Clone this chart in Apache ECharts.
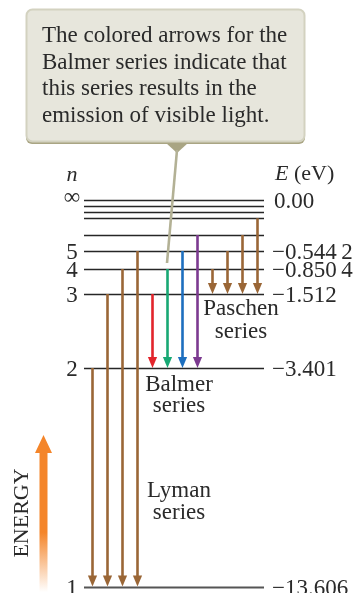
<!DOCTYPE html>
<html><head><meta charset="utf-8">
<script src="https://cdn.jsdelivr.net/npm/echarts@6/dist/echarts.min.js"></script>
<style>html,body{margin:0;padding:0;background:#fff}#c{width:357px;height:593px}</style>
</head><body><div id="c"></div>
<script>
// Hydrogen energy levels (schematic diagram scale, bottom = n=1)
const levelN = ['1', '2', '3', '4', '5', '6', '7', '8', '9', '∞'];
const levelLeftLabel = ['1', '2', '3', '4', '5', '', '', '', '', '∞'];
const levelEnergyLabel = ['\u221213.606', '\u22123.401', '\u22121.512', '\u22120.850\u20094', '\u22120.544\u20092', '', '', '', '', '0.00'];
const levelHeight = [0, 218.5, 292.5, 317.5, 335.5, 351.5, 368.2, 374.8, 380.8, 386.5];

// Transitions (upper level n -> lower level n)
const transitionCategories = ['L2', 'L3', 'L4', 'L5', 'B3', 'B4', 'B5', 'B6', 'P4', 'P5', 'P6', 'P7'];
const lymanFrom = [2, 3, 4, 5];
const lymanTo = 1;
const balmerFrom = [3, 4, 5, 6];
const balmerTo = 2;
const paschenFrom = [4, 5, 6, 7];
const paschenTo = 3;

const calloutText = 'The colored arrows for the\nBalmer series indicate that\nthis series results in the\nemission of visible light.';

const BROWN = '#9a6636';
const balmerColors = ['#e2242b', '#18a874', '#1d6fbf', '#7c3a90'];
const SERIF = "'Liberation Serif', serif";
const TXT = '#2a2a2a';

const arrowData = [];
let ci = 0;
lymanFrom.forEach(n => { arrowData.push({ value: [ci++, levelHeight[n - 1], levelHeight[lymanTo - 1]], itemStyle: { color: BROWN } }); });
balmerFrom.forEach((n, i) => { arrowData.push({ value: [ci++, levelHeight[n - 1], levelHeight[balmerTo - 1]], itemStyle: { color: balmerColors[i] } }); });
paschenFrom.forEach(n => { arrowData.push({ value: [ci++, levelHeight[n - 1], levelHeight[paschenTo - 1]], itemStyle: { color: BROWN } }); });

const levelData = levelHeight.map((h, i) => ({ value: [0, h, i] }));

const chart = echarts.init(document.getElementById('c'), null, { renderer: 'canvas' });
chart.setOption({
  animation: false,
  backgroundColor: '#ffffff',
  grid: { left: 84, top: 200, width: 180, height: 386.5 },
  xAxis: { type: 'category', data: transitionCategories, show: false, boundaryGap: true },
  yAxis: { type: 'value', min: 0, max: 386.5, show: false, splitLine: { show: false } },
  series: [
    {
      type: 'custom',
      name: 'levels',
      data: levelData,
      encode: { x: 0, y: 1 },
      z: 2,
      renderItem: function (params, api) {
        const cs = params.coordSys;
        const idx = api.value(2);
        const y = Math.round(api.coord([0, api.value(1)])[1]) + 0.5;
        const children = [{
          type: 'line',
          shape: { x1: cs.x, y1: y, x2: cs.x + cs.width, y2: y },
          style: { stroke: idx === 0 ? '#555555' : '#262626', lineWidth: idx === 0 ? 2 : 1.4 }
        }];
        if (levelLeftLabel[idx]) {
          children.push({
            type: 'text',
            style: { text: levelLeftLabel[idx], x: cs.x - 12, y: idx === 9 ? y - 3 : y + 1, font: '23px ' + SERIF, fill: TXT,
              align: 'center', verticalAlign: 'middle', textAlign: 'center', textVerticalAlign: 'middle' }
          });
        }
        if (levelEnergyLabel[idx]) {
          children.push({
            type: 'text',
            style: { text: levelEnergyLabel[idx], x: cs.x + cs.width + (idx === 9 ? 10 : 8), y: y + 1, font: '23px ' + SERIF, fill: TXT,
              align: 'left', verticalAlign: 'middle', textAlign: 'left', textVerticalAlign: 'middle' }
          });
        }
        return { type: 'group', children: children };
      }
    },
    {
      type: 'custom',
      name: 'transitions',
      data: arrowData,
      encode: { x: 0, y: [1, 2] },
      z: 3,
      renderItem: function (params, api) {
        const top = api.coord([api.value(0), api.value(1)]);
        const bot = api.coord([api.value(0), api.value(2)]);
        const color = api.visual('color');
        const hl = 11, hw = 4.6;
        const x = Math.round(top[0]) + 0.5;
        return {
          type: 'group',
          children: [
            { type: 'line', shape: { x1: x, y1: top[1], x2: x, y2: bot[1] - hl + 1 }, style: { stroke: color, lineWidth: 2.6 } },
            { type: 'polygon', shape: { points: [[x - hw, bot[1] - hl], [x + hw, bot[1] - hl], [x, bot[1]]] }, style: { fill: color } }
          ]
        };
      }
    }
  ],
  graphic: [
    // callout box
    { type: 'rect', shape: { x: 26, y: 11, width: 279, height: 133, r: 6 }, style: { fill: '#a9a583' }, z: 10 },
    { type: 'rect', shape: { x: 26.5, y: 9.5, width: 278, height: 132, r: 6 }, style: { fill: '#e7e6dc', stroke: '#d3d2c0', lineWidth: 2 }, z: 11 },
    { type: 'polygon', shape: { points: [[166, 143], [188, 143], [177, 153]] }, style: { fill: '#a9a583' }, z: 11 },
    { type: 'line', shape: { x1: 177, y1: 150, x2: 167, y2: 263 }, style: { stroke: '#b3b195', lineWidth: 2.6 }, z: 20 },
    { type: 'text', z: 12, style: { text: calloutText, x: 42, y: 23, font: '23px ' + SERIF, fill: TXT, lineHeight: 26.5,
      align: 'left', verticalAlign: 'top', textAlign: 'left', textVerticalAlign: 'top' } },
    // column headers
    { type: 'text', z: 12, style: { text: 'n', x: 72, y: 175, font: 'italic 22px ' + SERIF, fill: TXT,
      align: 'center', verticalAlign: 'middle', textAlign: 'center', textVerticalAlign: 'middle' } },
    { type: 'text', z: 12, style: { text: '{i|E} (eV)', x: 275, y: 174, font: '22px ' + SERIF, fill: TXT,
      align: 'left', verticalAlign: 'middle', textAlign: 'left', textVerticalAlign: 'middle',
      rich: { i: { font: 'italic 22px ' + SERIF, fill: TXT, color: TXT } } } },
    // series labels
    { type: 'text', z: 12, style: { text: 'Paschen\nseries', x: 241, y: 320, font: '23px ' + SERIF, fill: TXT, lineHeight: 23,
      align: 'center', verticalAlign: 'middle', textAlign: 'center', textVerticalAlign: 'middle' } },
    { type: 'text', z: 12, style: { text: 'Balmer\nseries', x: 179, y: 395, font: '23px ' + SERIF, fill: TXT, lineHeight: 21,
      align: 'center', verticalAlign: 'middle', textAlign: 'center', textVerticalAlign: 'middle' } },
    { type: 'text', z: 12, style: { text: 'Lyman\nseries', x: 179, y: 502, font: '23px ' + SERIF, fill: TXT, lineHeight: 22,
      align: 'center', verticalAlign: 'middle', textAlign: 'center', textVerticalAlign: 'middle' } },
    // energy arrow
    { type: 'polygon', z: 12, shape: { points: [[43.5, 435], [52, 453], [47.5, 453], [47.5, 592], [39.5, 592], [39.5, 453], [35, 453]] },
      style: { fill: new echarts.graphic.LinearGradient(0, 0, 0, 1, [
        { offset: 0, color: '#f4852a' }, { offset: 0.62, color: '#f4852a' }, { offset: 1, color: 'rgba(255,255,255,1)' }]) } },
    { type: 'text', z: 12, x: 22, y: 513, rotation: Math.PI / 2, style: { text: 'ENERGY', x: 0, y: 0, font: '22px ' + SERIF, fill: TXT,
      align: 'center', verticalAlign: 'middle', textAlign: 'center', textVerticalAlign: 'middle' } }
  ]
});
</script>
</body></html>
